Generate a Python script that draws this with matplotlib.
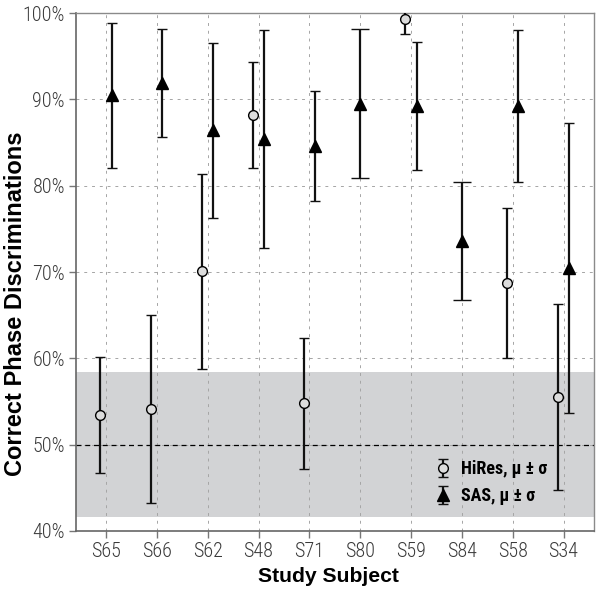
#!/usr/bin/env python3
"""
Per-subject phase discrimination accuracy, HiRes vs SAS (mean +/- sd).
"""

import numpy as np
import matplotlib

matplotlib.use("Agg")
import matplotlib.pyplot as plt
from matplotlib import font_manager
from matplotlib.ticker import FuncFormatter

subjects = ["S65", "S66", "S62", "S48", "S71", "S80", "S59", "S84", "S58", "S34"]

# percent correct, NaN = no data for that subject
hires_mean = [53.4, 54.1, 70.1, 88.2, 54.8, np.nan, 99.3, np.nan, 68.7, 55.5]
hires_sd = [6.7, 10.9, 11.3, 6.1, 7.6, np.nan, 1.7, np.nan, 8.7, 10.8]
sas_mean = [90.5, 91.9, 86.4, 85.4, 84.6, 89.5, 89.2, 73.6, 89.2, 70.5]
sas_sd = [8.4, 6.3, 10.1, 12.6, 6.4, 8.6, 7.4, 6.8, 8.8, 16.8]

chance = 50.0
chance_band = (41.6, 58.4)

installed = {f.name for f in font_manager.fontManager.ttflist}
NARROW = [f for f in ["Liberation Sans Narrow", "Roboto Condensed", "Roboto",
                      "DejaVu Sans"] if f in installed]
BOLD = ["Liberation Sans", "DejaVu Sans"]


def _draw_series(ax, xs, means, sds, other, side, **style):
    """Dodge left/right when both series exist, centre with wide caps otherwise."""
    handle = None
    for i, (m, s) in enumerate(zip(means, sds)):
        if np.isnan(m):
            continue
        alone = np.isnan(other[i])
        x = xs[i] if alone else xs[i] + side * 0.11
        cap = 6.8 if alone else 3.8
        h = ax.errorbar(
            [x], [m], yerr=[s], fmt=style["marker"], ms=style["ms"],
            mfc=style["mfc"], mec="black", mew=1.0, ecolor="#111111",
            elinewidth=1.6, capsize=cap, capthick=1.6, zorder=4,
        )
        if handle is None:
            handle = h
    return handle


fig = plt.figure(figsize=(6.0, 5.93), dpi=100)
ax = fig.add_axes([0.1267, 0.1046, 0.8633, 0.8734])

xs = np.arange(len(subjects))

ax.axhspan(*chance_band, color="#d2d3d5", lw=0, zorder=0)
ax.axhline(chance, color="black", lw=0.9, ls=(0, (4, 3)), zorder=2)

ax.grid(True, color="#a5a5a5", lw=0.7, ls=(0, (3, 5)), zorder=1)
ax.set_axisbelow(True)

h_hi = _draw_series(ax, xs, hires_mean, hires_sd, sas_mean, -1,
                    marker="o", ms=7, mfc="#dcdcdc")
h_sas = _draw_series(ax, xs, sas_mean, sas_sd, hires_mean, 1,
                     marker="^", ms=9, mfc="black")

ax.set_xlim(-0.59, 9.6)
ax.set_ylim(40, 100)
ax.set_xticks(xs)
ax.set_xticklabels(subjects)
ax.set_yticks(np.arange(40, 101, 10))
ax.yaxis.set_major_formatter(FuncFormatter(lambda v, _: f"{v:.0f}%"))

for lab in ax.get_xticklabels() + ax.get_yticklabels():
    lab.set_family(NARROW)
    lab.set_fontweight("light")
    lab.set_fontsize(14.5)
    lab.set_color("#3a3a3a")

ax.tick_params(axis="both", direction="out", length=5, width=1.0,
               color="#777777", pad=3)

for side in ["left", "bottom"]:
    ax.spines[side].set_color("#666666")
    ax.spines[side].set_linewidth(1.2)
for side in ["top", "right"]:
    ax.spines[side].set_color("#8a8a8a")
    ax.spines[side].set_linewidth(1.0)

# axis titles placed on the figure so the wide y title stays inside the canvas
fig.text(328.5 / 600, 1 - 576.5 / 593, "Study Subject", family=BOLD,
         fontweight="bold", fontsize=15.2, ha="center", va="center")
fig.text(16 / 600, 1 - 303.5 / 593, "Correct Phase Discriminations",
         family=BOLD, fontweight="bold", fontsize=17, rotation=90,
         ha="center", va="center")

leg = ax.legend(
    [h_hi, h_sas],
    ["HiRes, \u03bc \u00b1 \u03c3", "SAS, \u03bc \u00b1 \u03c3"],
    loc="lower left", bbox_to_anchor=(0.695, 0.05), frameon=False,
    borderpad=0, borderaxespad=0,
    handlelength=0.8, handletextpad=0.6, labelspacing=0.5,
    prop={"family": NARROW, "weight": "bold", "size": 13},
)

fig.savefig("out.png", dpi=100)
plt.close(fig)
